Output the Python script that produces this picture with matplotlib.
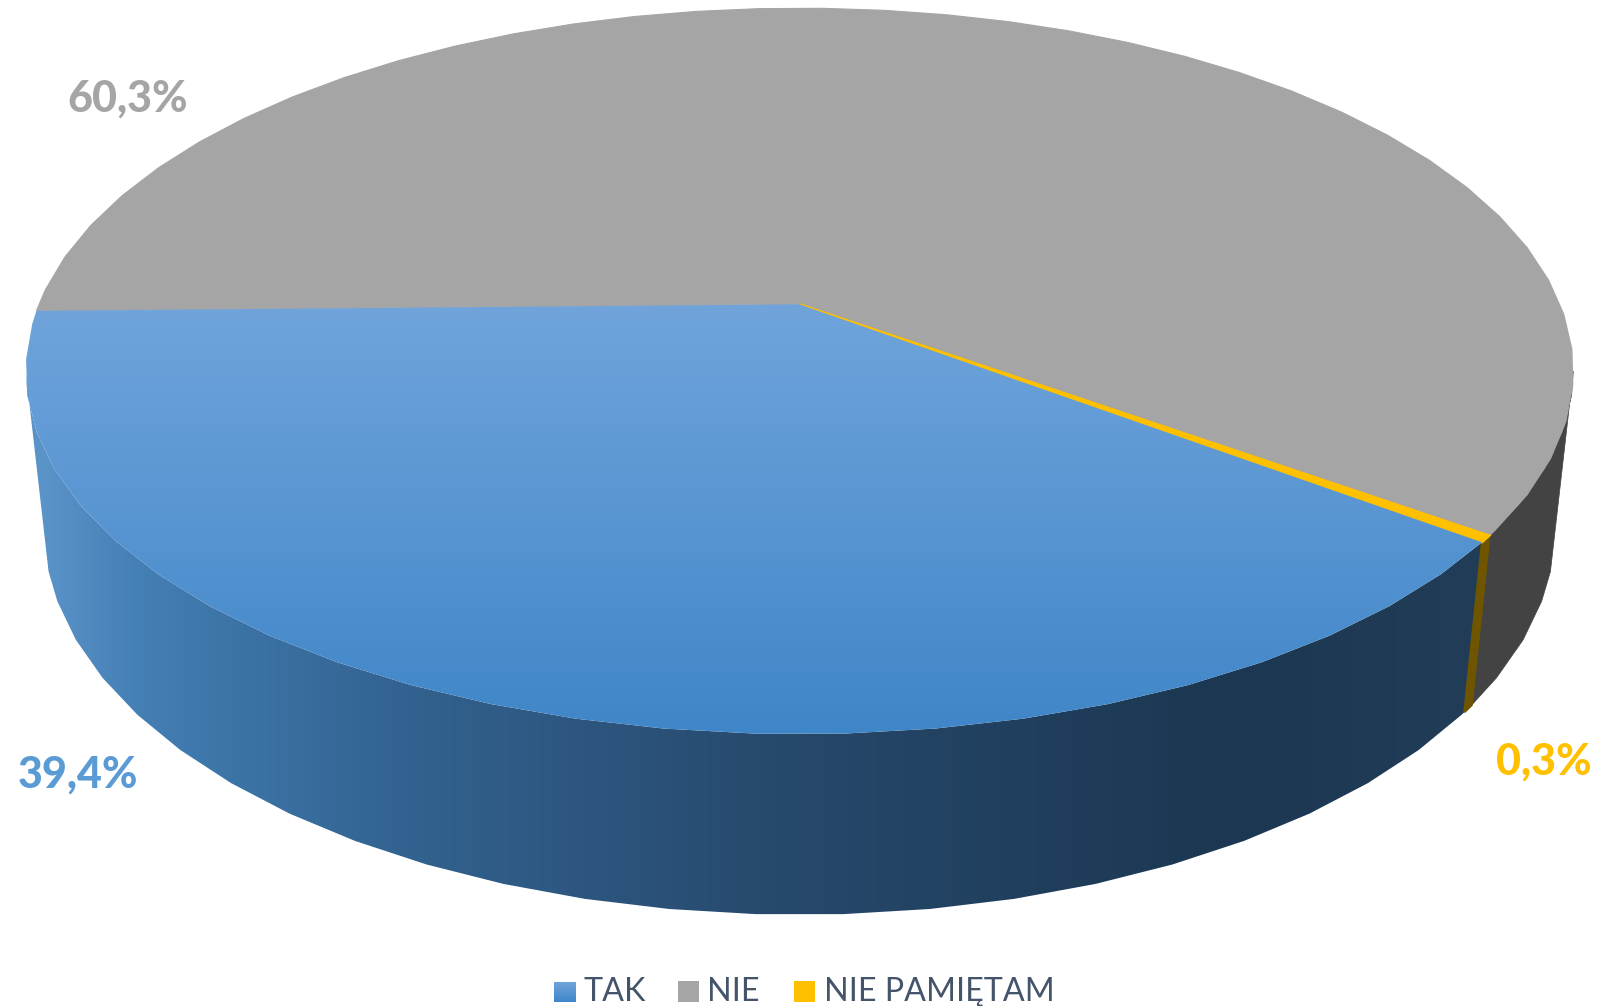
"""Kolowy wykres 3D: TAK / NIE / NIE PAMIETAM."""

import numpy as np
import matplotlib.pyplot as plt
from matplotlib.colors import to_rgb
from matplotlib.patches import Polygon, Rectangle

plt.rcParams['font.family'] = ['Lato', 'DejaVu Sans']

# Dane
CATEGORIES = ['TAK', 'NIE', 'NIE PAMIĘTAM']
VALUES = [39.4, 60.3, 0.3]
LABELS = ['39,4%', '60,3%', '0,3%']

COLORS_TOP = [None, '#a5a5a5', '#ffc000']
COLORS_SIDE = [None, '#434343', '#6f5500']
LABEL_COLORS = ['#5b9bd5', '#a5a5a5', '#ffc000']
LABEL_POS = [(78, 788), (128, 112), (1544, 775)]
LEGEND_COLORS = ['#5b9bd5', '#a5a5a5', '#ffc000']

START_ANGLE = -37.1
LOW_SHIFT = 0.7
CX = 799.5
TOP = (760.6, 350.7, 0.1842, 304.3)
LOW = (745.2, 375.4, 0.165, 465.2)

# Gradient niebieskiej sciany bocznej (x na obrazie, kolor)
GRAD_X = [45, 130, 223, 407, 774, 1233, 1480]
GRAD_C = ['#5a93c8', '#4580b6', '#3d75a8', '#32628f', '#27496d', '#1b3751', '#223d58']


def project(t_deg, a, b, k, cy):
    """Rzut perspektywiczny punktow okregu na obraz."""
    t = np.radians(t_deg)
    u, v = np.cos(t), np.sin(t)
    w = 1 + k * v
    return CX + a * u / w, cy - b * v / w


def arc(start, end):
    """Katy na wspolnej siatce, zeby obrys byl lamany jak w oryginale."""
    lo, hi = min(start, end), max(start, end)
    n0 = np.ceil((lo + 87.2) / 5.6)
    n1 = np.floor((hi + 87.2) / 5.6)
    grid = -87.2 + np.arange(n0, n1 + 1) * 5.6
    t = np.r_[lo, grid, hi]
    return t if start < end else t[::-1]


def side_poly(start, end_top, end_low):
    x1, y1 = project(arc(start, end_top), *TOP)
    x2, y2 = project(arc(start + LOW_SHIFT, end_low), *LOW)
    return np.r_[np.c_[x1, y1], np.c_[x2, y2][::-1]]


def top_poly(start, end):
    x, y = project(arc(start, end), *TOP)
    return np.r_[[[CX, TOP[3]]], np.c_[x, y]]


fig = plt.figure(figsize=(16.01, 10.06), dpi=100)
ax = fig.add_axes([0, 0, 1, 1])

# Granice wycinkow (zgodnie z ruchem wskazowek zegara)
EDGES = START_ANGLE - np.cumsum([0] + VALUES) * 3.6
E_GREY_YELLOW = EDGES[2] + 360
E_YELLOW_BLUE = EDGES[3] + 360

# Sciany boczne: szara i zolta z prawej, konce na sylwetce bryly
ax.add_patch(Polygon(side_poly(E_GREY_YELLOW, -10.6, -15.7), closed=True,
                     fc=COLORS_SIDE[1], ec=COLORS_SIDE[1], lw=0.5, zorder=1))
ax.add_patch(Polygon(side_poly(E_GREY_YELLOW, E_YELLOW_BLUE, E_YELLOW_BLUE + LOW_SHIFT),
                     closed=True, fc=COLORS_SIDE[2], ec=COLORS_SIDE[2], lw=1.6, zorder=3))

# Niebieska sciana boczna: gradient w poziomie
side_blue = Polygon(side_poly(EDGES[0], -169.4, -164.3), closed=True, fc='none', ec='none')
ax.add_patch(side_blue)
xs = np.linspace(20, 1490, 500)
stops = np.array([to_rgb(c) for c in GRAD_C])
grad = np.stack([np.interp(xs, GRAD_X, stops[:, i]) for i in range(3)], axis=-1)
im = ax.imshow(grad[np.newaxis, :, :], extent=(20, 1490, 1006, 0), aspect='auto', zorder=2)
im.set_clip_path(side_blue)

# Gorna powierzchnia
ax.add_patch(Polygon(top_poly(EDGES[1], EDGES[2]), closed=True,
                     fc=COLORS_TOP[1], ec=COLORS_TOP[1], lw=0.8, zorder=4))
ax.add_patch(Polygon(top_poly(EDGES[2], EDGES[3]), closed=True,
                     fc=COLORS_TOP[2], ec=COLORS_TOP[2], lw=1.6, zorder=4.5))

top_blue = Polygon(top_poly(EDGES[0], EDGES[1]), closed=True, fc='none', ec='none')
ax.add_patch(top_blue)
ys = np.linspace(0, 1, 300)
c1 = np.array(to_rgb('#70a4db'))
c2 = np.array(to_rgb('#3f86c8'))
grad_top = c1 + (c2 - c1) * ys[:, np.newaxis]
im2 = ax.imshow(grad_top[:, np.newaxis, :], extent=(0, 1601, 736, 304), aspect='auto', zorder=5)
im2.set_clip_path(top_blue)

# Etykiety danych
for lab, col, pos in zip(LABELS, LABEL_COLORS, LABEL_POS):
    ax.text(pos[0], pos[1], lab, color=col, fontsize=31, fontweight=900,
            ha='center', va='baseline', zorder=6)

# Legenda
LEG_X = [554, 678, 794]
TEXT_X = [584, 707, 824]
for j, (name, col, x0, tx) in enumerate(zip(CATEGORIES, LEGEND_COLORS, LEG_X, TEXT_X)):
    if j == 0:
        g = np.linspace(to_rgb('#70a4db'), to_rgb('#3f86c8'), 30)[:, np.newaxis, :]
        ax.imshow(g, extent=(x0, x0 + 22, 1002, 982), aspect='auto', zorder=6)
    else:
        ax.add_patch(Rectangle((x0, 981), 21, 21, fc=col, ec='none', zorder=6))
    ax.text(tx, 1001, name, color='#44546a', fontsize=23.2, ha='left', va='baseline', zorder=6)

ax.set_xlim(0, 1601)
ax.set_ylim(1006, 0)
ax.axis('off')

fig.savefig('out.png', dpi=100)
